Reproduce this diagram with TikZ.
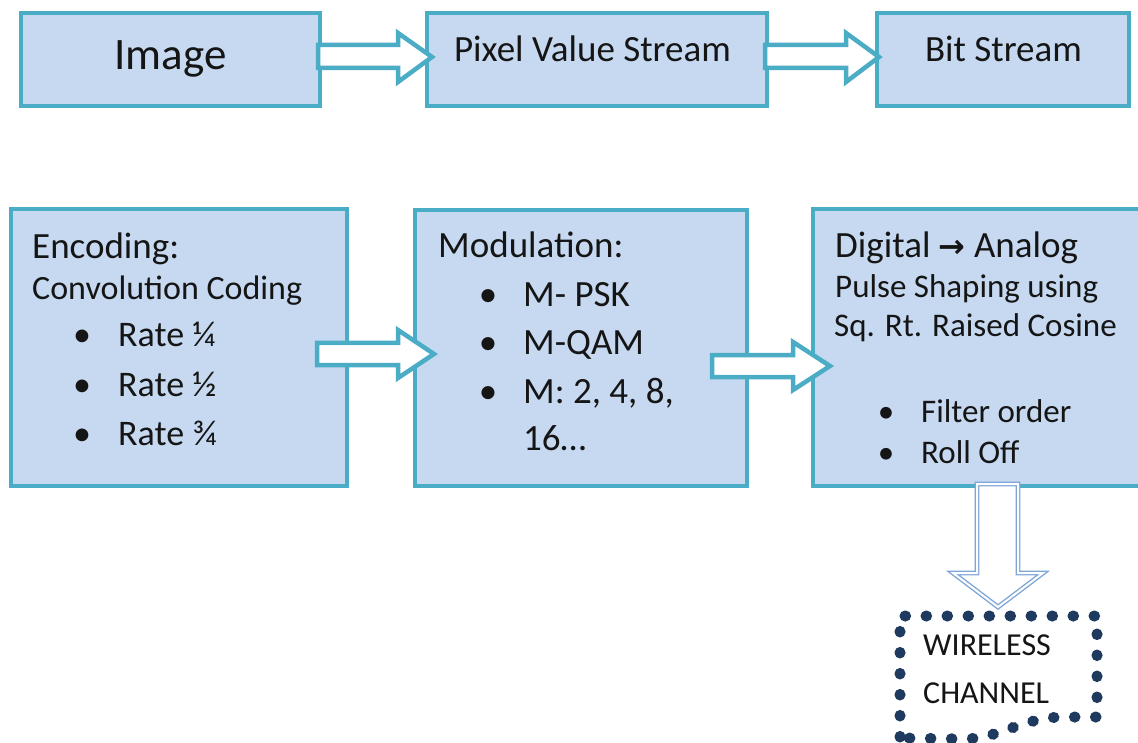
\documentclass[tikz,border=0pt]{standalone}
\usepackage{fontspec}
\setmainfont{Carlito}
\newfontfamily\symfont{DejaVu Sans}
\definecolor{boxfill}{HTML}{C6D9F1}
\definecolor{boxline}{HTML}{4BACC6}
\definecolor{downline}{HTML}{7EA6D8}
\definecolor{dotcol}{HTML}{1F3A5F}
\definecolor{txt}{HTML}{151515}
\tikzset{
  box/.style={draw=boxline, fill=boxfill, line width=4pt, inner sep=0pt},
  blockarrow/.style={draw=boxline, fill=white, line width=4.5pt, line join=miter},
  downarrow/.style={draw=downline, double=white, double distance=2pt, line width=1.4pt, fill=white, line join=miter},
  lbl/.style={anchor=base west, inner sep=0pt, text=txt},
  clbl/.style={anchor=base, inner sep=0pt, text=txt},
  dotline/.style={draw=dotcol, line width=11pt, line cap=round, dash pattern=on 0.6pt off 20.4pt}
}
\begin{document}
\begin{tikzpicture}[x=1pt,y=-1pt]
\clip (0,0) rectangle (1138,743);
\fill[white] (0,0) rectangle (1138,743);
% top row boxes
\node[box, minimum width=299pt, minimum height=93pt] (img) at (170.5,59.5) {};
\node[box, minimum width=340pt, minimum height=93pt] (pix) at (597,59.5) {};
\node[box, minimum width=252pt, minimum height=93pt] (bit) at (1003,59.5) {};
% second row boxes
\node[box, minimum width=336pt, minimum height=277pt] (enc) at (179,347.5) {};
\node[box, minimum width=332pt, minimum height=276pt] (mod) at (581,348) {};
\node[box, minimum width=337pt, minimum height=277pt] (dig) at (981.5,347.5) {};
% top row texts
\node[clbl, font=\fontsize{45}{50}\selectfont] (timg) at (170.5,70) {Image};
\node[clbl, font=\fontsize{37}{42}\selectfont] (tpix) at (592.5,62) {Pixel Value Stream};
\node[clbl, font=\fontsize{37}{42}\selectfont] (tbit) at (1003.5,62) {Bit Stream};
% encoding
\node[lbl, font=\fontsize{37}{42}\selectfont] (e1) at (32,259) {Encoding:};
\node[lbl, font=\fontsize{34}{40}\selectfont] (e2) at (32,300) {Convolution Coding};
\node[lbl, font=\fontsize{36}{40}\selectfont, anchor=base] (eb1) at (82,347) {•};
\node[lbl, font=\fontsize{36}{40}\selectfont] (e3) at (118,347) {Rate ¼};
\node[lbl, font=\fontsize{36}{40}\selectfont, anchor=base] (eb2) at (82,396) {•};
\node[lbl, font=\fontsize{36}{40}\selectfont] (e4) at (118,396) {Rate ½};
\node[lbl, font=\fontsize{36}{40}\selectfont, anchor=base] (eb3) at (82,445) {•};
\node[lbl, font=\fontsize{36}{40}\selectfont] (e5) at (118,445) {Rate ¾};
% modulation
\node[lbl, font=\fontsize{37}{42}\selectfont] (m1) at (438,258) {Modulation:};
\node[lbl, font=\fontsize{37}{42}\selectfont, anchor=base] (mb1) at (488,307) {•};
\node[lbl, font=\fontsize{37}{42}\selectfont] (m2) at (523,307) {M- PSK};
\node[lbl, font=\fontsize{37}{42}\selectfont, anchor=base] (mb2) at (488,355) {•};
\node[lbl, font=\fontsize{37}{42}\selectfont] (m3) at (523,355) {M-QAM};
\node[lbl, font=\fontsize{37}{42}\selectfont, anchor=base] (mb3) at (488,403) {•};
\node[lbl, font=\fontsize{37}{42}\selectfont] (m4) at (523,403) {M: 2, 4, 8,};
\node[lbl, font=\fontsize{37}{42}\selectfont] (m5) at (523,450) {16…};
% digital to analog
\node[lbl, font=\fontsize{37}{42}\selectfont] (d1) at (835,258) {Digital {\symfont\bfseries\fontsize{32}{34}\selectfont →} Analog};
\node[lbl, font=\fontsize{33}{38}\selectfont] (d2) at (835,298) {Pulse Shaping using};
\node[lbl, font=\fontsize{33}{38}\selectfont] (d3) at (834,337) {Sq. Rt. Raised Cosine};
\node[lbl, font=\fontsize{33}{38}\selectfont, anchor=base] (db1) at (886,422) {•};
\node[lbl, font=\fontsize{33}{38}\selectfont] (d4) at (921,422) {Filter order};
\node[lbl, font=\fontsize{33}{38}\selectfont, anchor=base] (db2) at (886,463) {•};
\node[lbl, font=\fontsize{33}{38}\selectfont] (d5) at (921,463) {Roll Off};
% block arrows
\draw[blockarrow] (318,45) -- (398,45) -- (398,33) -- (432,57) -- (398,82) -- (398,68) -- (318,68) -- cycle;
\draw[blockarrow] (765,45) -- (846,45) -- (846,33) -- (879,57) -- (846,82) -- (846,68) -- (765,68) -- cycle;
\draw[blockarrow] (317,343) -- (398,343) -- (398,330) -- (434,354) -- (398,378) -- (398,365) -- (317,365) -- cycle;
\draw[blockarrow] (712,355) -- (793,355) -- (793,342) -- (830,366) -- (793,390) -- (793,377) -- (712,377) -- cycle;
% down arrow
\draw[downarrow] (977,484) -- (1018,484) -- (1018,573) -- (1043,573) -- (998,607) -- (953,573) -- (977,573) -- cycle;
% wireless channel
\draw[dotline] (900,737) -- (900,616) -- (1097,616) -- (1097,717) -- (1060,717) .. controls (1020,719) and (1000,738) .. (965,739) -- (902,738);
\node[lbl, font=\fontsize{32}{36}\selectfont] (w1) at (923,655) {WIRELESS};
\node[lbl, font=\fontsize{32}{36}\selectfont] (w2) at (923,703) {CHANNEL};
\end{tikzpicture}
\end{document}
